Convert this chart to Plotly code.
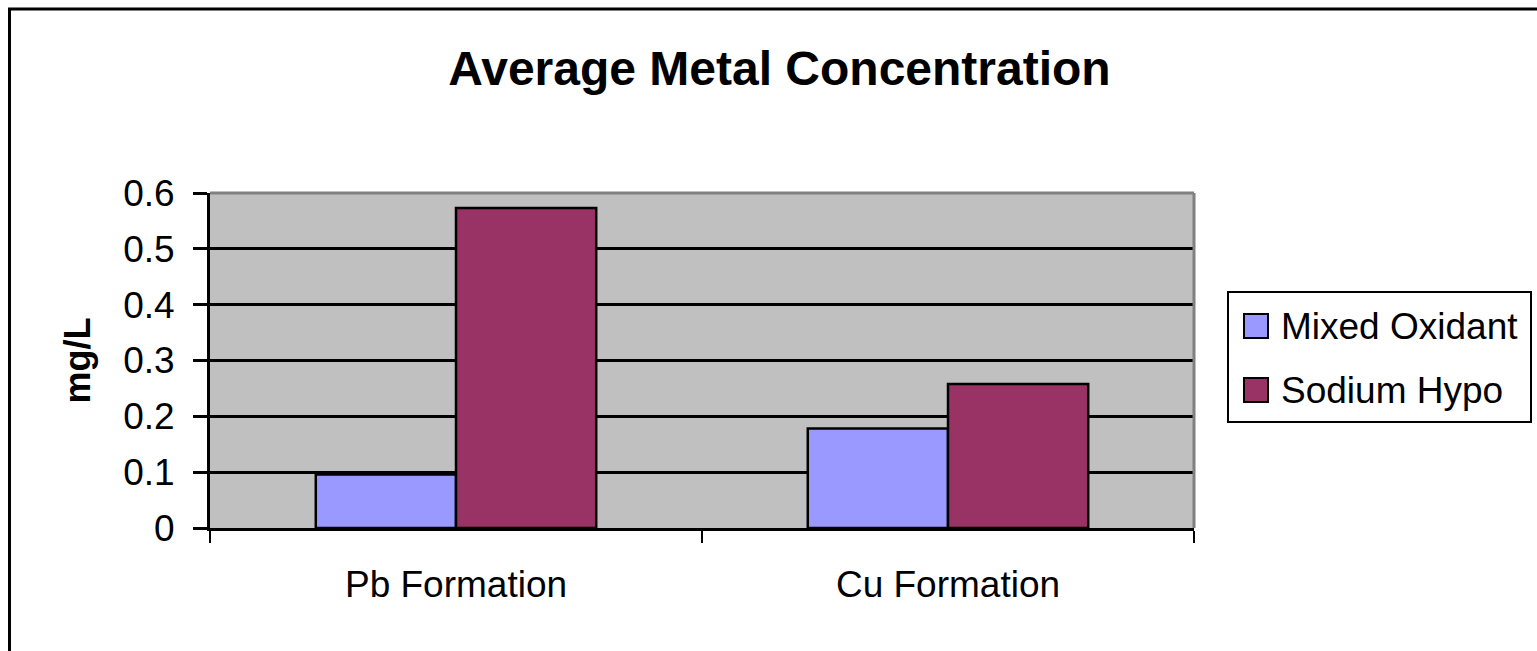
import plotly.graph_objects as go

# Average metal concentration (mg/L) by formation type and disinfectant
categories = ["Pb Formation", "Cu Formation"]
series_names = ["Mixed Oxidant", "Sodium Hypo"]
mixed_oxidant = [0.096, 0.178]
sodium_hypo = [0.573, 0.258]
series_values = [mixed_oxidant, sodium_hypo]
series_colors = ["#9999FF", "#993366"]
y_ticks = [0, 0.1, 0.2, 0.3, 0.4, 0.5, 0.6]
y_tick_text = ["0", "0.1", "0.2", "0.3", "0.4", "0.5", "0.6"]

W, H = 1537, 651
# plot area in pixels
PL, PR, PT, PB = 210, 1194, 193, 528
FONT = "Liberation Sans, Arial, sans-serif"


def px_x(px):
    return (px - PL) / (PR - PL)


def px_y(py):
    return (PB - py) / (PB - PT)


fig = go.Figure()
for name, vals, color in zip(series_names, series_values, series_colors):
    fig.add_trace(go.Bar(
        x=categories, y=vals, name=name,
        marker=dict(color=color, line=dict(color="black", width=2.5)),
        showlegend=False,
    ))

shapes = [
    # outer chart frame
    dict(type="rect", xref="paper", yref="paper",
         x0=px_x(9.5), x1=px_x(W + 20), y0=px_y(9), y1=px_y(H + 20),
         line=dict(color="black", width=3), layer="below"),
    # grey top and right edges of the plot area
    dict(type="line", xref="paper", yref="paper",
         x0=0, x1=1, y0=1, y1=1, line=dict(color="#808080", width=3)),
    dict(type="line", xref="paper", yref="paper",
         x0=1, x1=1, y0=0, y1=1, line=dict(color="#808080", width=3)),
    # legend box
    dict(type="rect", xref="paper", yref="paper",
         x0=px_x(1228), x1=px_x(1531), y0=px_y(292), y1=px_y(422),
         line=dict(color="black", width=2), fillcolor="white"),
]
annotations = []
row_centers = [326, 390]
for name, color, yc in zip(series_names, series_colors, row_centers):
    shapes.append(dict(type="rect", xref="paper", yref="paper",
                       x0=px_x(1244), x1=px_x(1268),
                       y0=px_y(yc - 12), y1=px_y(yc + 12),
                       line=dict(color="black", width=2), fillcolor=color))
    annotations.append(dict(xref="paper", yref="paper", x=px_x(1279), y=px_y(yc),
                            xanchor="left", yanchor="middle", showarrow=False,
                            text=name, font=dict(family=FONT, size=37, color="black")))

fig.update_layout(
    width=W, height=H,
    margin=dict(l=PL, r=W - PR, t=PT, b=H - PB, pad=0),
    paper_bgcolor="white",
    plot_bgcolor="#C0C0C0",
    barmode="group",
    bargap=0.43,
    bargroupgap=0,
    title=dict(text="<b>Average Metal Concentration</b>",
               x=779.5 / W, xref="container", xanchor="center",
               y=1 - 68 / H, yref="container", yanchor="middle",
               font=dict(family=FONT, size=48, color="black")),
    shapes=shapes,
    annotations=annotations,
    showlegend=False,
)
fig.update_xaxes(
    type="category",
    showline=True, linecolor="black", linewidth=3,
    ticks="outside", tickson="boundaries", ticklen=12, tickwidth=2, tickcolor="black",
    tickfont=dict(family=FONT, size=37, color="black"),
    ticklabelstandoff=22,
    showgrid=False, zeroline=False,
)
fig.update_yaxes(
    range=[0, 0.6],
    tickvals=y_ticks, ticktext=y_tick_text,
    showline=True, linecolor="black", linewidth=3,
    ticks="outside", ticklen=14, tickwidth=3, tickcolor="black",
    tickfont=dict(family=FONT, size=37, color="black"),
    ticklabelstandoff=11,
    showgrid=True, gridcolor="black", gridwidth=2.5,
    zeroline=False,
    title=dict(text="<b>mg/L</b>", standoff=22,
               font=dict(family=FONT, size=36, color="black")),
)

fig.write_html("out.html")
